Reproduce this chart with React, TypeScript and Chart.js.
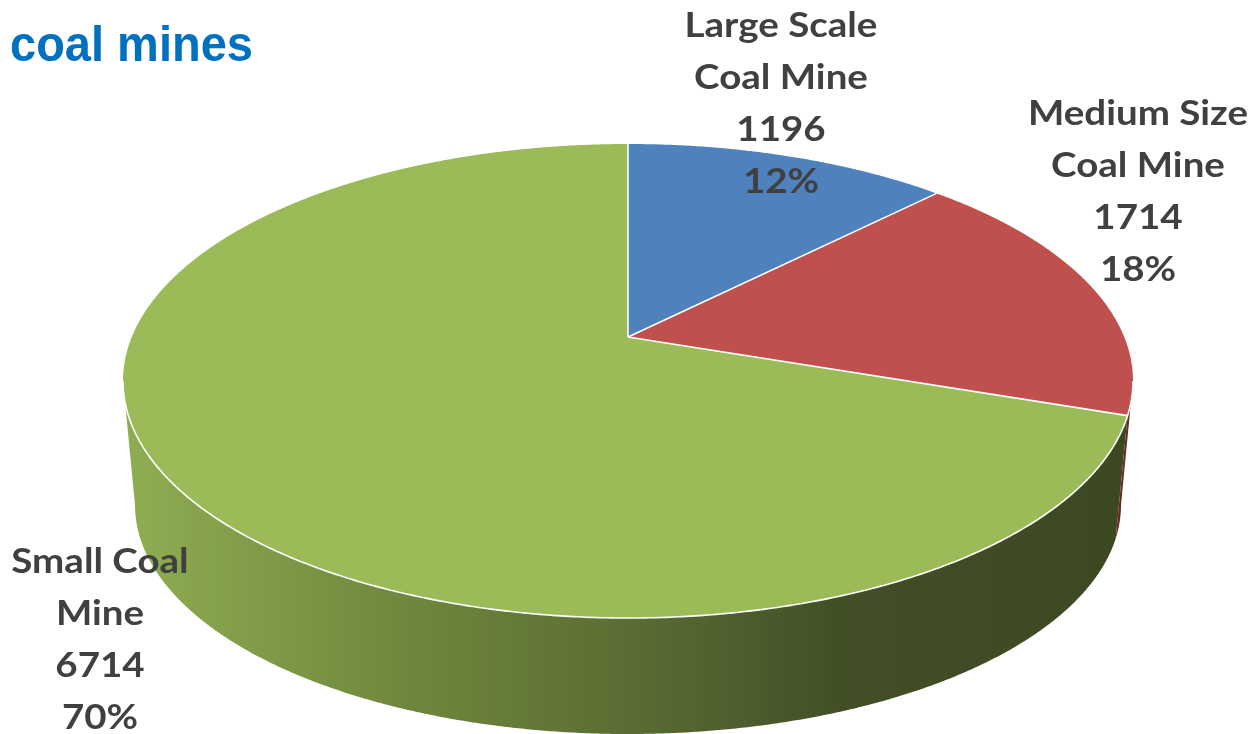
import React, { useEffect, useRef } from 'react';
import { Chart, registerables } from 'chart.js';

Chart.register(...registerables);

const titleText = 'coal mines';
const categories = ['Large Scale Coal Mine', 'Medium Size Coal Mine', 'Small Coal Mine'];
const labelLines = [
  ['Large Scale', 'Coal Mine'],
  ['Medium Size', 'Coal Mine'],
  ['Small Coal', 'Mine'],
];
const mineCounts = [1196, 1714, 6714];
const sliceColors = ['#4F81BD', '#C0504D', '#9BBB59'];
const sideStops: [number, string][][] = [
  [[0, '#6a8fc4'], [1, '#2d4a70']],
  [[0, '#8a3a38'], [1, '#6a2826']],
  [[0, '#8fae52'], [0.28, '#6f873d'], [0.5, '#5a6d33'], [0.72, '#414e26'], [1, '#3c4822']],
];

// ---- layout / projection (not data) ----
const CX = 628;
const CY = 381; // top face ellipse centre
const RX = 505;
const RY = 237;
const APEX_Y = 337; // where the pie centre lands in perspective
const PC = (APEX_Y - CY) / RY; // perspective coefficient
const BCY = 505; // bottom rim ellipse
const BRX = 493;
const BRY = 229;
const SIL = Math.asin(-PC); // silhouette angle
const labelAnchors = [[781, 37], [1138, 125], [100, 573]];
const LINE_H = 52;

function projPoint(u: number, v: number, cx: number, cy: number, rx: number, ry: number): [number, number] {
  const w = 1 + PC * v;
  return [cx + (rx * Math.sqrt(1 - PC * PC) * u) / w, cy + (ry * (v + PC)) / w];
}
const topPt = (a: number) => projPoint(Math.cos(a), Math.sin(a), CX, CY, RX, RY);
const botPt = (a: number) => projPoint(Math.cos(a), Math.sin(a), CX, BCY, BRX, BRY);

const pie3d = {
  id: 'pie3d',
  beforeDatasetsDraw(chart: any) {
    const ctx = chart.ctx as any;
    const meta = chart.getDatasetMeta(0);
    // side walls
    meta.data.forEach((arc: any, i: number) => {
      const a1 = Math.max(arc.startAngle, SIL);
      const a2 = Math.min(arc.endAngle, Math.PI - SIL);
      if (a2 <= a1) return;
      const grad = ctx.createLinearGradient(CX - RX, 0, CX + RX, 0);
      sideStops[i].forEach(([o, c]) => grad.addColorStop(o, c));
      const n = Math.max(2, Math.ceil((a2 - a1) / 0.005));
      ctx.beginPath();
      for (let k = 0; k <= n; k++) {
        const p = topPt(a1 + ((a2 - a1) * k) / n);
        if (k === 0) ctx.moveTo(p[0], p[1]);
        else ctx.lineTo(p[0], p[1]);
      }
      for (let k = n; k >= 0; k--) {
        const p = botPt(a1 + ((a2 - a1) * k) / n);
        ctx.lineTo(p[0], p[1]);
      }
      ctx.closePath();
      ctx.fillStyle = grad;
      ctx.fill();
    });

    // project the library's own arc paths onto the tilted disc
    const a0 = meta.data[0];
    const ox = a0.x;
    const oy = a0.y;
    const R = a0.outerRadius;
    const map = (x: number, y: number) => projPoint((x - ox) / R, (y - oy) / R, CX, CY, RX, RY);
    const proto = Object.getPrototypeOf(ctx);
    let has = false;
    ctx.beginPath = function () {
      has = false;
      return proto.beginPath.call(ctx);
    };
    ctx.moveTo = function (x: number, y: number) {
      has = true;
      const p = map(x, y);
      proto.moveTo.call(ctx, p[0], p[1]);
    };
    ctx.lineTo = function (x: number, y: number) {
      const p = map(x, y);
      if (!has) {
        has = true;
        proto.moveTo.call(ctx, p[0], p[1]);
      } else proto.lineTo.call(ctx, p[0], p[1]);
    };
    ctx.arc = function (x: number, y: number, r: number, s: number, e: number, ccw?: boolean) {
      const T = Math.PI * 2;
      let sweep = e - s;
      if (!ccw) {
        if (sweep >= T) sweep = T;
        else if (sweep < 0) sweep = (sweep % T) + T;
      } else {
        if (-sweep >= T) sweep = -T;
        else if (sweep > 0) sweep = (sweep % T) - T;
      }
      const n = Math.max(2, Math.ceil(Math.abs(sweep) / 0.004));
      for (let k = 0; k <= n; k++) {
        const a = s + (sweep * k) / n;
        ctx.lineTo(x + r * Math.cos(a), y + r * Math.sin(a));
      }
    };
  },
  afterDatasetsDraw(chart: any) {
    const ctx = chart.ctx as any;
    delete ctx.beginPath;
    delete ctx.moveTo;
    delete ctx.lineTo;
    delete ctx.arc;
    const meta = chart.getDatasetMeta(0);
    ctx.save();
    ctx.strokeStyle = '#ffffff';
    ctx.lineWidth = 1.6;
    ctx.lineJoin = 'round';
    // front rim
    ctx.beginPath();
    const n = 400;
    for (let k = 0; k <= n; k++) {
      const p = topPt(SIL + ((Math.PI - 2 * SIL) * k) / n);
      if (k === 0) ctx.moveTo(p[0], p[1]);
      else ctx.lineTo(p[0], p[1]);
    }
    ctx.stroke();
    // seams
    meta.data.forEach((arc: any) => {
      const p = topPt(arc.startAngle);
      ctx.beginPath();
      ctx.moveTo(CX, APEX_Y);
      ctx.lineTo(p[0], p[1]);
      ctx.stroke();
    });
    ctx.restore();
  },
  afterDraw(chart: any) {
    const ctx = chart.ctx as CanvasRenderingContext2D;
    const total = mineCounts.reduce((s, v) => s + v, 0);
    ctx.save();
    ctx.font = 'bold 47px "Liberation Sans", Arial, sans-serif';
    ctx.fillStyle = '#0070C0';
    ctx.textAlign = 'left';
    ctx.textBaseline = 'alphabetic';
    ctx.save();
    ctx.translate(10, 61);
    ctx.scale(1, 1.05);
    ctx.fillText(titleText, 0, 0);
    ctx.restore();

    ctx.font = 'bold 35px Lato, "Open Sans", sans-serif';
    ctx.fillStyle = '#404040';
    ctx.textAlign = 'center';
    mineCounts.forEach((v, i) => {
      const lines = [...labelLines[i], String(v), Math.round((v / total) * 100) + '%'];
      const [x, y] = labelAnchors[i];
      lines.forEach((t, j) => {
        ctx.save();
        ctx.translate(x, y + j * LINE_H);
        ctx.scale(1.1, 1);
        ctx.fillText(t, 0, 0);
        ctx.restore();
      });
    });
    ctx.restore();
  },
};

export default function App() {
  const ref = useRef<HTMLCanvasElement>(null);
  useEffect(() => {
    if (!ref.current) return;
    const chart = new Chart(ref.current, {
      type: 'pie',
      data: {
        labels: categories,
        datasets: [
          {
            data: mineCounts,
            backgroundColor: sliceColors,
            borderWidth: 0,
            clip: false,
          } as any,
        ],
      },
      options: {
        responsive: false,
        animation: false,
        devicePixelRatio: 1,
        events: [],
        layout: { padding: 0 },
        plugins: {
          legend: { display: false },
          tooltip: { enabled: false },
        },
      },
      plugins: [pie3d],
    });
    return () => chart.destroy();
  }, []);
  return (
    <div style={{ position: 'absolute', left: 0, top: 0, width: 1256, height: 734, background: '#fff' }}>
      <canvas ref={ref} width={1256} height={734} />
    </div>
  );
}
